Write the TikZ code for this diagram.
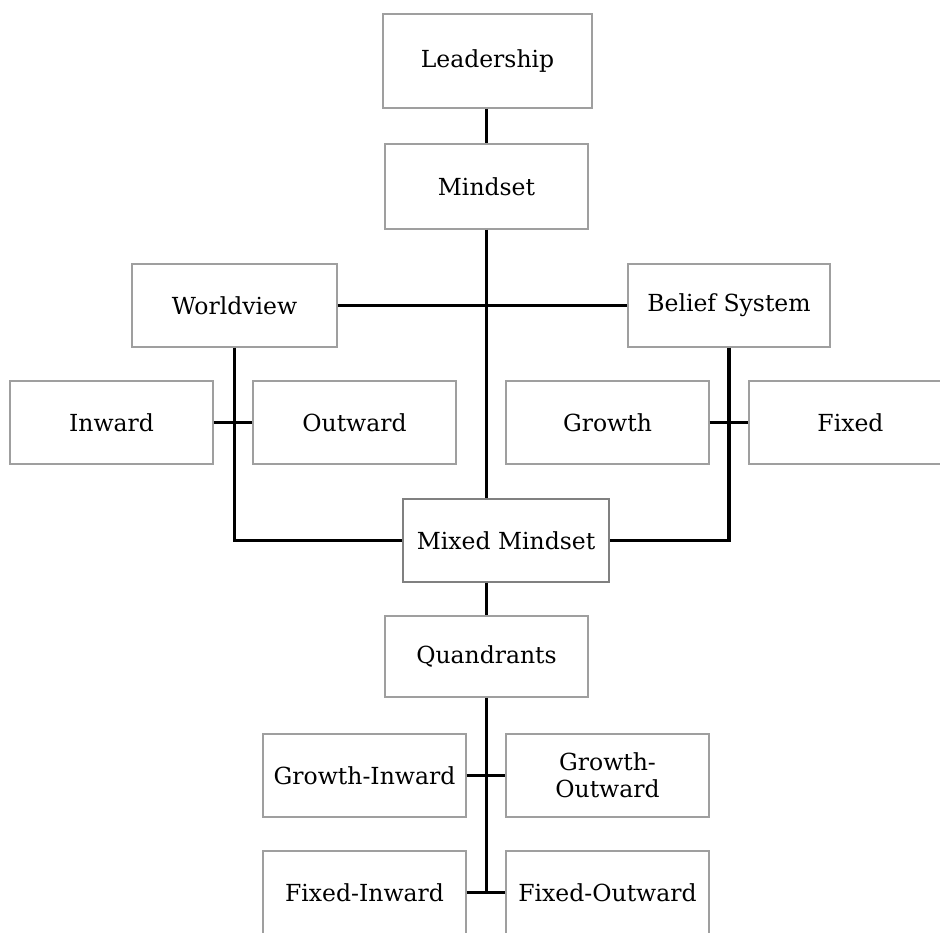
\documentclass[tikz,border=0pt]{standalone}
\usepackage{fontspec}
\setmainfont{DejaVu Serif}
\usepackage{tikz}
\usetikzlibrary{calc}
\usepackage{xcolor}

\tikzset{
  box/.style={draw=gray!75, line width=1.2pt, fill=white, minimum width=203pt,
    minimum height=83pt, inner sep=0pt, align=center, font=\fontsize{23.5}{27}\selectfont},
  link/.style={line width=3.5pt, black}
}

\begin{document}
\begin{tikzpicture}[x=1pt,y=-1pt]
		\useasboundingbox (0,0) rectangle (940,932);
		\clip (0,0) rectangle (940,932); % Clips the picture...

		% top of the tree
		\node[box, minimum width=209pt, minimum height=94pt] (lead) at (487.5,61) {Leadership};
		\node[box, minimum height=85pt] (mind) at (486.5,186.5) {Mindset};
		\node[box, minimum width=205pt] (world) at (234.5,305.5) {Worldview};
		\node[box, minimum width=202pt] (belief) at (729,305.5) {Belief System};

		% second row
		\node[box] (inward) at (111.5,422.5) {Inward};
		\node[box] (outward) at (354.5,422.5) {Outward};
		\node[box] (growth) at (607.5,422.5) {Growth};
		\node[box] (fixed) at (850.5,422.5) {Fixed};

		\node[box, minimum width=206pt, line width=1.8pt, draw=gray] (mixed) at (506,540.5) {Mixed Mindset};
		\node[box, minimum height=81pt] (quad) at (486.5,656.5) {Quandrants};

		% quadrants
		\node[box] (gi) at (364.5,775.5) {Growth-Inward};
		\node[box] (go) at (607.5,775.5) {Growth-\\Outward};
		\node[box] (fi) at (364.5,892.5) {Fixed-Inward};
		\node[box] (fo) at (607.5,892.5) {Fixed-Outward};

		% connectors
		\draw[link] (mind.north |- lead.south) -- (mind.north);
		\draw[link] (mind.south) -- (mind.south |- mixed.north);% trunk
		\draw[link] (world.east) -- (belief.west);
		\draw[link] (world.south) |- (mixed.west);
		\draw[link] (belief.south) |- (mixed.east);
		\draw[link] (inward.east) -- (outward.west);
		\draw[link] (growth.east) -- (fixed.west);
		\draw[link] (quad.north |- mixed.south) -- (quad.north);
		\coordinate (qend) at (quad.south |- fi.east);
		\draw[link] (quad.south) -- ($(qend)+(0,1.75)$);
		\draw[link] (gi.east) -- (go.west);
		\draw[link] (fi.east) -- (fo.west);
	  \end{tikzpicture}
\end{document}
